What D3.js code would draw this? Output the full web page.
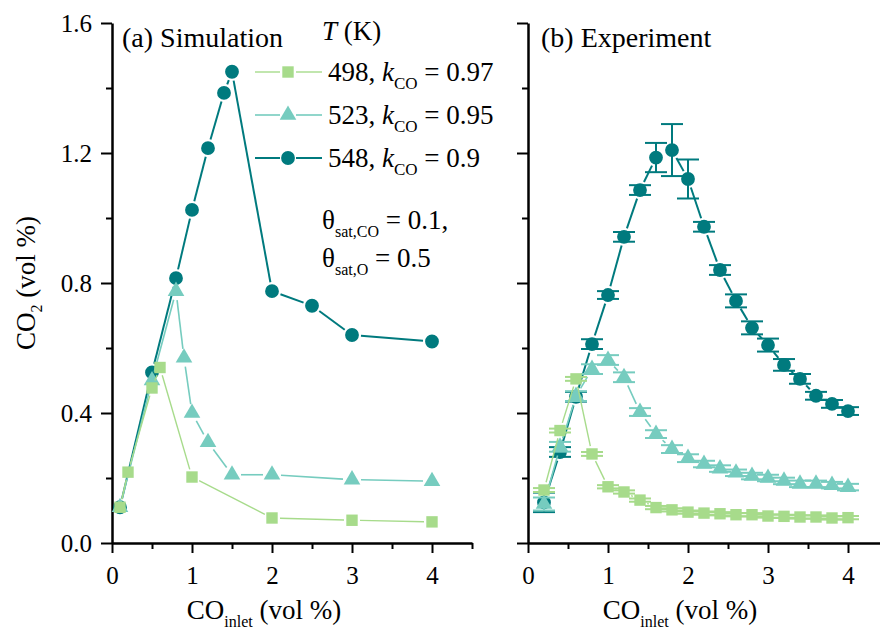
<!DOCTYPE html>
<html>
<head>
<meta charset="utf-8">
<script src="https://cdn.jsdelivr.net/npm/d3@7/dist/d3.min.js"></script>
<style>
  body { margin: 0; background: #fff; }
  svg text { font-family: "Liberation Serif", "Times New Roman", serif; fill: #000; }
</style>
</head>
<body>
<div id="chart"></div>
<script>
// ---- simulation (panel a) ----
const sim498X = [0.1, 0.2, 0.5, 0.6, 1.0, 2.0, 3.0, 4.0];
const sim498Y = [0.11, 0.218, 0.477, 0.54, 0.203, 0.077, 0.07, 0.065];
const sim523X = [0.1, 0.5, 0.8, 0.9, 1.0, 1.2, 1.5, 2.0, 3.0, 4.0];
const sim523Y = [0.11, 0.5, 0.775, 0.57, 0.40, 0.31, 0.21, 0.21, 0.195, 0.19];
const sim548X = [0.1, 0.5, 0.8, 1.0, 1.2, 1.4, 1.5, 2.0, 2.5, 3.0, 4.0];
const sim548Y = [0.11, 0.525, 0.815, 1.025, 1.215, 1.385, 1.45, 0.775, 0.73, 0.64, 0.62];

// ---- experiment (panel b) ----
const expX = [0.2, 0.4, 0.6, 0.8, 1.0, 1.2, 1.4, 1.6, 1.8, 2.0, 2.2, 2.4, 2.6, 2.8, 3.0, 3.2, 3.4, 3.6, 3.8, 4.0];
const exp498Y = [0.163, 0.346, 0.505, 0.274, 0.173, 0.157, 0.132, 0.109, 0.102, 0.095, 0.092, 0.09, 0.087, 0.087, 0.083, 0.082, 0.08, 0.08, 0.077, 0.078];
const exp498Err = [0.006, 0.006, 0.006, 0.006, 0.005, 0.005, 0.005, 0.005, 0.005, 0.005, 0.005, 0.005, 0.005, 0.005, 0.005, 0.005, 0.005, 0.005, 0.005, 0.005];
const exp523Y = [0.12, 0.296, 0.452, 0.535, 0.563, 0.51, 0.403, 0.335, 0.289, 0.261, 0.243, 0.229, 0.216, 0.206, 0.2, 0.191, 0.182, 0.182, 0.178, 0.172];
const exp523Err = [0.02, 0.015, 0.015, 0.015, 0.015, 0.015, 0.012, 0.012, 0.012, 0.012, 0.01, 0.01, 0.01, 0.01, 0.01, 0.01, 0.01, 0.01, 0.01, 0.01];
const exp548Y = [0.125, 0.28, 0.45, 0.612, 0.763, 0.942, 1.086, 1.186, 1.209, 1.12, 0.973, 0.84, 0.745, 0.662, 0.609, 0.548, 0.505, 0.453, 0.428, 0.406];
const exp548Err = [0.03, 0.015, 0.015, 0.015, 0.012, 0.015, 0.015, 0.045, 0.08, 0.06, 0.015, 0.015, 0.02, 0.02, 0.02, 0.018, 0.015, 0.012, 0.012, 0.012];

const yMajor = [0, 0.4, 0.8, 1.2, 1.6];
const yMinor = [0.2, 0.6, 1.0, 1.4];
const xMajor = [0, 1, 2, 3, 4];
const xMinor = [0.5, 1.5, 2.5, 3.5, 4.5];

const series = [
    { key: '548', color: '#007a7e', symbol: d3.symbolCircle, size: 150, r: 7, lw: 2, kco: '0.9' },
    { key: '523', color: '#76ccbf', symbol: d3.symbolTriangle, size: 120, r: 7, lw: 1.6, kco: '0.95' },
    { key: '498', color: '#a7db8b', symbol: d3.symbolSquare, size: 130, r: 6, lw: 1.4, kco: '0.97' }
];
const simData = {
    '498': sim498X.map((x, i) => ({ x, y: sim498Y[i] })),
    '523': sim523X.map((x, i) => ({ x, y: sim523Y[i] })),
    '548': sim548X.map((x, i) => ({ x, y: sim548Y[i] }))
};
const expData = {
    '498': expX.map((x, i) => ({ x, y: exp498Y[i], e: exp498Err[i] })),
    '523': expX.map((x, i) => ({ x, y: exp523Y[i], e: exp523Err[i] })),
    '548': expX.map((x, i) => ({ x, y: exp548Y[i], e: exp548Err[i] }))
};

const svg = d3.select('#chart').append('svg')
    .attr('width', 880)
    .attr('height', 631);

const y = d3.scaleLinear().domain([0, 1.6]).range([543, 23]);
const xLeft = d3.scaleLinear().domain([0, 4.5]).range([112, 472]);
const xRight = d3.scaleLinear().domain([0, 4.5]).range([528, 888]);

function styleAxis(g, w) {
    g.select('.domain').attr('stroke', '#000').attr('stroke-width', w);
    g.selectAll('.tick line').attr('stroke', '#000').attr('stroke-width', 2);
    g.selectAll('.tick text').style('font-size', '25px').attr('fill', '#000');
}

// line segments with a gap around each symbol
function gapSegments(pts, gap) {
    const segs = [];
    for (let i = 1; i < pts.length; i++) {
        const [x0, y0] = pts[i - 1], [x1, y1] = pts[i];
        const len = Math.hypot(x1 - x0, y1 - y0);
        if (len <= 2 * gap) continue;
        const ux = (x1 - x0) / len, uy = (y1 - y0) / len;
        segs.push([x0 + ux * gap, y0 + uy * gap, x1 - ux * gap, y1 - uy * gap]);
    }
    return segs;
}

function drawPanel(x, data, withErr, showYLabels, title, titleX) {
    const g = svg.append('g');

    // y axis
    g.append('g')
        .attr('transform', `translate(${x(0)},0)`)
        .call(d3.axisLeft(y).tickValues(yMajor).tickSize(11).tickSizeOuter(0).tickPadding(9)
            .tickFormat(showYLabels ? d3.format('.1f') : ''))
        .call(a => styleAxis(a, 2.5));
    g.append('g')
        .attr('transform', `translate(${x(0)},0)`)
        .call(d3.axisLeft(y).tickValues(yMinor).tickSize(6).tickFormat(''))
        .call(a => { a.select('.domain').remove(); styleAxis(a, 0); });

    // x axis
    g.append('g')
        .attr('transform', `translate(0,${y(0)})`)
        .call(d3.axisBottom(x).tickValues(xMajor).tickSize(10).tickSizeOuter(0).tickPadding(13).tickFormat(d3.format('d')))
        .call(a => styleAxis(a, 2.5));
    g.append('g')
        .attr('transform', `translate(0,${y(0)})`)
        .call(d3.axisBottom(x).tickValues(xMinor).tickSize(6).tickFormat(''))
        .call(a => { a.select('.domain').remove(); styleAxis(a, 0); });

    // x axis title
    const xt = g.append('text')
        .attr('x', x(1.9))
        .attr('y', 619)
        .attr('text-anchor', 'middle')
        .style('font-size', '27px');
    xt.append('tspan').text('CO');
    xt.append('tspan').attr('dy', 8).style('font-size', '16px').text('inlet');
    xt.append('tspan').attr('dy', -8).text(' (vol %)');

    // panel title
    g.append('text')
        .attr('x', titleX)
        .attr('y', 47)
        .style('font-size', '28px')
        .text(title);

    series.forEach(s => {
        const pts = data[s.key];
        const px = pts.map(d => [x(d.x), y(d.y)]);
        const sg = g.append('g');

        sg.selectAll('line.conn')
            .data(gapSegments(px, s.r + 2))
            .enter().append('line')
            .attr('class', 'conn')
            .attr('x1', d => d[0]).attr('y1', d => d[1])
            .attr('x2', d => d[2]).attr('y2', d => d[3])
            .attr('stroke', s.color)
            .attr('stroke-width', s.lw);

        if (withErr) {
            const eb = sg.selectAll('g.err')
                .data(pts)
                .enter().append('g')
                .attr('class', 'err')
                .attr('stroke', s.color)
                .attr('stroke-width', 2);
            eb.append('line')
                .attr('x1', d => x(d.x)).attr('x2', d => x(d.x))
                .attr('y1', d => y(d.y - d.e)).attr('y2', d => y(d.y + d.e));
            eb.append('line')
                .attr('x1', d => x(d.x) - 11).attr('x2', d => x(d.x) + 11)
                .attr('y1', d => y(d.y + d.e)).attr('y2', d => y(d.y + d.e));
            eb.append('line')
                .attr('x1', d => x(d.x) - 11).attr('x2', d => x(d.x) + 11)
                .attr('y1', d => y(d.y - d.e)).attr('y2', d => y(d.y - d.e));
        }

        sg.selectAll('path.sym')
            .data(pts)
            .enter().append('path')
            .attr('class', 'sym')
            .attr('d', d3.symbol().type(s.symbol).size(s.size))
            .attr('transform', d => `translate(${x(d.x)},${y(d.y)})`)
            .attr('fill', s.color);
    });
}

drawPanel(xLeft, simData, false, true, '(a) Simulation', 122);
drawPanel(xRight, expData, true, false, '(b) Experiment', 541);

// y axis title
const yt = svg.append('text')
    .attr('transform', 'translate(35,283) rotate(-90)')
    .attr('text-anchor', 'middle')
    .style('font-size', '27px');
yt.append('tspan').text('CO');
yt.append('tspan').attr('dy', 7).style('font-size', '16px').text('2');
yt.append('tspan').attr('dy', -7).text(' (vol %)');

// legend
const legend = svg.append('g');
const lt = legend.append('text').attr('x', 322).attr('y', 40).style('font-size', '27px');
lt.append('tspan').style('font-style', 'italic').text('T');
lt.append('tspan').text(' (K)');

const legendOrder = [series[2], series[1], series[0]];
const legendY = [72, 115, 158];
legendOrder.forEach((s, i) => {
    const ly = legendY[i];
    legend.append('line')
        .attr('x1', 255).attr('x2', 280).attr('y1', ly).attr('y2', ly)
        .attr('stroke', s.color).attr('stroke-width', s.lw);
    legend.append('line')
        .attr('x1', 296).attr('x2', 322).attr('y1', ly).attr('y2', ly)
        .attr('stroke', s.color).attr('stroke-width', s.lw);
    legend.append('path')
        .attr('d', d3.symbol().type(s.symbol).size(s.size)())
        .attr('transform', `translate(288,${ly})`)
        .attr('fill', s.color);
    const t = legend.append('text').attr('x', 328).attr('y', ly + 9).style('font-size', '27px');
    t.append('tspan').text(s.key + ', ');
    t.append('tspan').style('font-style', 'italic').text('k');
    t.append('tspan').attr('dy', 8).style('font-size', '17px').text('CO');
    t.append('tspan').attr('dy', -8).text(' = ' + s.kco);
});

const th1 = legend.append('text').attr('x', 322).attr('y', 229).style('font-size', '27px');
th1.append('tspan').text('θ');
th1.append('tspan').attr('dy', 8).style('font-size', '16px').text('sat,CO');
th1.append('tspan').attr('dy', -8).text(' = 0.1,');

const th2 = legend.append('text').attr('x', 322).attr('y', 267).style('font-size', '27px');
th2.append('tspan').text('θ');
th2.append('tspan').attr('dy', 8).style('font-size', '16px').text('sat,O');
th2.append('tspan').attr('dy', -8).text(' = 0.5');
</script>
</body>
</html>
